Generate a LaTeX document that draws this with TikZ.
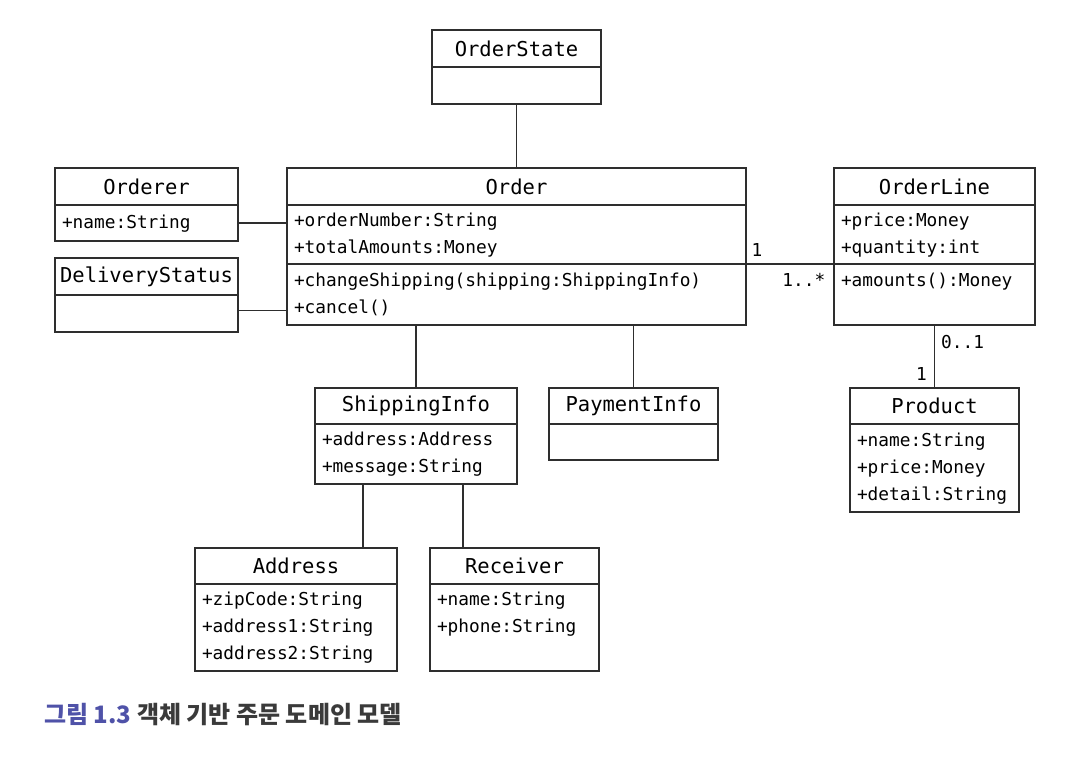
\documentclass[tikz,border=0pt]{standalone}
\usepackage{fontspec}
\usepackage{tikz}
\newfontfamily\umlmono{DejaVu Sans Mono}
\newfontfamily\krfont{Noto Sans CJK KR}
\definecolor{linegray}{HTML}{2E2E2E}
\definecolor{capblue}{HTML}{4F52A8}
\definecolor{capgray}{HTML}{3A3A3A}

\tikzset{
  umlhead/.style={draw=linegray, line width=1.4pt, outer sep=0pt, inner sep=0pt,
    anchor=north west, text=black, font=\umlmono\fontsize{20.5}{24}\selectfont},
  umlbody/.style={draw=linegray, line width=1.4pt, outer sep=0pt, inner xsep=7pt, inner ysep=0pt,
    anchor=north west, align=left, text=black, font=\umlmono\fontsize{17.8}{27}\selectfont,
    execute at begin node=\strut, execute at end node=\strut},
  assoc/.style={draw=linegray, line width=1.4pt},
  mult/.style={inner sep=0pt, text=black, font=\umlmono\fontsize{17.8}{27}\selectfont}
}

\begin{document}
\begin{tikzpicture}[x=1pt, y=-1pt]
  \useasboundingbox (0,0) rectangle (1072,768);

  % top
  \node[umlhead, minimum width=169, minimum height=37] (stateHead) at (432,30) {OrderState};
  \node[umlbody, text width=155, minimum height=37] (stateBody) at (stateHead.south west) {};

  % left column
  \node[umlhead, minimum width=183, minimum height=37] (ordererHead) at (55,168) {Orderer};
  \node[umlbody, text width=169, minimum height=36] (ordererBody) at (ordererHead.south west) {+name:String};

  \node[umlhead, minimum width=183, minimum height=37] (statusHead) at (55,258) {DeliveryStatus};
  \node[umlbody, text width=169, minimum height=37] (statusBody) at (statusHead.south west) {};

  % order
  \node[umlhead, minimum width=459, minimum height=37] (orderHead) at (287,168) {Order};
  \node[umlbody, text width=445, minimum height=59] (orderAttr) at (orderHead.south west)
    {+orderNumber:String\\+totalAmounts:Money};
  \node[umlbody, text width=445, minimum height=61] (orderOps) at (orderAttr.south west)
    {+changeShipping(shipping:ShippingInfo)\\+cancel()};

  % order line and product
  \node[umlhead, minimum width=201, minimum height=37] (lineHead) at (834,168) {OrderLine};
  \node[umlbody, text width=187, minimum height=59] (lineAttr) at (lineHead.south west)
    {+price:Money\\+quantity:int};
  \node[umlbody, text width=187, minimum height=61] (lineOps) at (lineAttr.south west)
    {+amounts():Money\\};

  \node[umlhead, minimum width=169, minimum height=36] (productHead) at (850,388) {Product};
  \node[umlbody, text width=155, minimum height=88] (productAttr) at (productHead.south west)
    {+name:String\\+price:Money\\+detail:String};

  % shipping and payment
  \node[umlhead, minimum width=202, minimum height=36] (shipHead) at (315,388) {ShippingInfo};
  \node[umlbody, text width=188, minimum height=60] (shipAttr) at (shipHead.south west)
    {+address:Address\\+message:String};

  \node[umlhead, minimum width=169, minimum height=36] (payHead) at (549,388) {PaymentInfo};
  \node[umlbody, text width=155, minimum height=36] (payBody) at (payHead.south west) {};

  \node[umlhead, minimum width=202, minimum height=36] (addrHead) at (195,548) {Address};
  \node[umlbody, text width=188, minimum height=87] (addrAttr) at (addrHead.south west)
    {+zipCode:String\\+address1:String\\+address2:String};

  \node[umlhead, minimum width=169, minimum height=36] (recvHead) at (430,548) {Receiver};
  \node[umlbody, text width=155, minimum height=87] (recvAttr) at (recvHead.south west)
    {+name:String\\+phone:String\\};

  % associations
  \draw[assoc] (stateBody.south) -- (orderHead.north);
  \draw[assoc] (ordererBody.east) -- (ordererBody.east -| orderHead.west);
  \draw[assoc] ([yshift=3pt]statusBody.east) -- ([yshift=3pt]statusBody.east -| orderHead.west);
  \draw[assoc] (orderAttr.south east)
    node[mult, anchor=south west, xshift=5pt, yshift=7pt] (multOrder) {1}
    -- (lineAttr.south west)
    node[mult, anchor=north east, xshift=-8pt, yshift=-9pt] (multLine) {1..*};
  \draw[assoc] (orderOps.south -| shipHead.north) -- (shipHead.north);
  \draw[assoc] (orderOps.south -| payHead.north) -- (payHead.north);
  \draw[assoc] (lineOps.south)
    node[mult, anchor=north west, xshift=6pt, yshift=-10pt] (multLineP) {0..1}
    -- (productHead.north)
    node[mult, anchor=south east, xshift=-7pt, yshift=7pt] (multProduct) {1};

  \coordinate (shipLeft) at ([xshift=-53pt]shipAttr.south);
  \coordinate (shipRight) at ([xshift=47pt]shipAttr.south);
  \draw[assoc] (shipLeft) -- (shipLeft |- addrHead.north);
  \draw[assoc] (shipRight) -- (shipRight |- recvHead.north);

  % caption
  \node[anchor=west, inner sep=0pt, font=\krfont\bfseries\fontsize{24}{28}\selectfont, text=capgray] (caption)
    at (44,715) {\textcolor{capblue}{그림 1.3} 객체 기반 주문 도메인 모델};
\end{tikzpicture}
\end{document}
